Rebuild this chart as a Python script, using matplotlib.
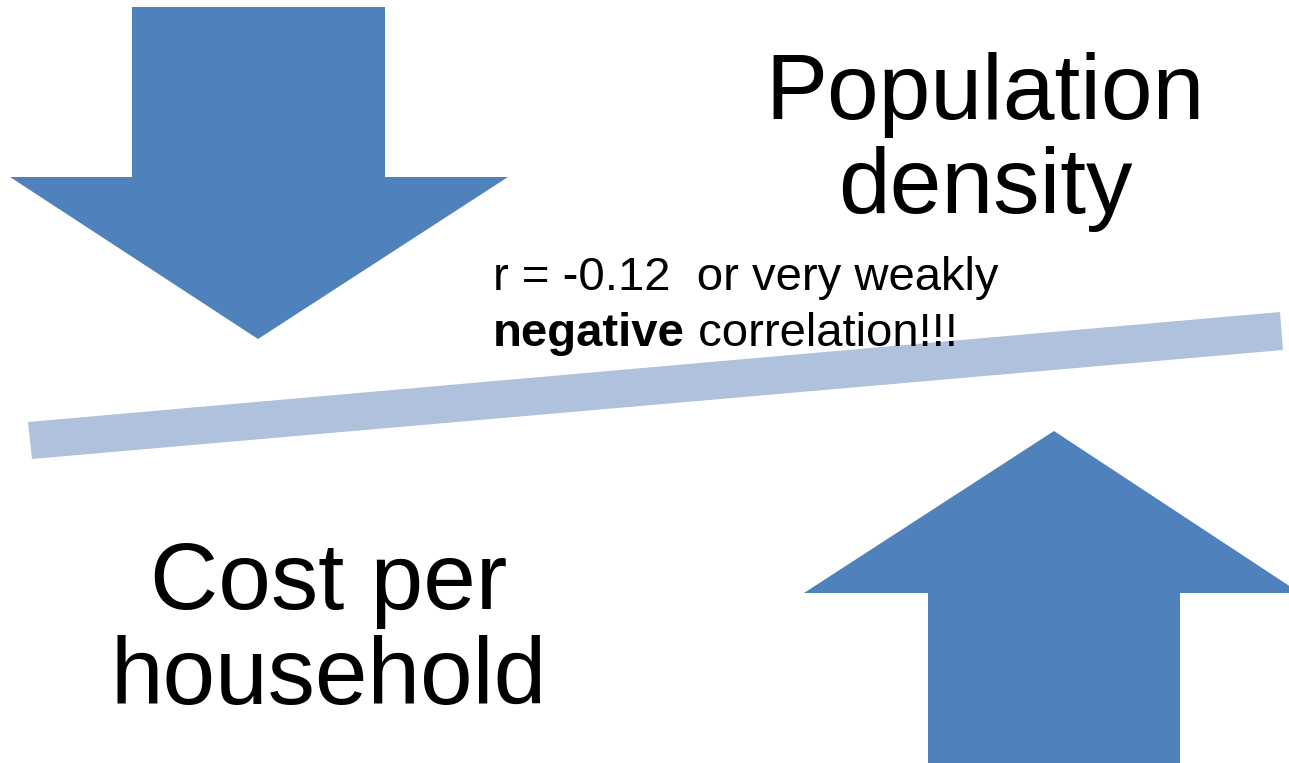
import matplotlib
matplotlib.use("Agg")
import matplotlib.pyplot as plt
from matplotlib.patches import Polygon

W, H = 1289, 763
arrow_color = "#4F81BD"
bar_color = "#B0C1DD"

title_top = "Population\ndensity"
title_bottom = "Cost per\nhousehold"
r_line = "r = -0.12  or very weakly"
bold_word = "negative"
rest_word = " correlation!!!"

# shapes (pixel space, y downward)
down_arrow = [(132, 7), (385, 7), (385, 177), (508, 177), (258, 339), (10, 177), (132, 177)]
up_arrow = [(1054, 431), (1300, 593), (1180, 593), (1180, 770), (928, 770), (928, 593), (804, 593)]
bar = [(28, 422), (1280, 312), (1283, 350), (32, 459)]

fig = plt.figure(figsize=(W / 100, H / 100), dpi=100)
ax = fig.add_axes([0, 0, 1, 1])
ax.set_xlim(0, W)
ax.set_ylim(H, 0)
ax.axis("off")

ax.add_patch(Polygon(down_arrow, closed=True, color=arrow_color, lw=0))
ax.add_patch(Polygon(up_arrow, closed=True, color=arrow_color, lw=0))
ax.add_patch(Polygon(bar, closed=True, color=bar_color, lw=0))

font = "Liberation Sans"
ax.text(985, 142, title_top, ha="center", va="center", fontsize=67,
        family=font, linespacing=1.13)
ax.text(329, 632, title_bottom, ha="center", va="center", fontsize=68,
        family=font, linespacing=1.1)

ax.text(493, 290, r_line, ha="left", va="baseline", fontsize=34, family=font)
t1 = ax.text(493, 346, bold_word, ha="left", va="baseline", fontsize=34,
             family=font, fontweight="bold")
fig.canvas.draw()
ext = t1.get_window_extent()
x_end = ax.transData.inverted().transform((ext.x1, ext.y0))[0]
ax.text(x_end, 346, rest_word, ha="left", va="baseline", fontsize=34, family=font)

fig.savefig("out.png", dpi=100)
